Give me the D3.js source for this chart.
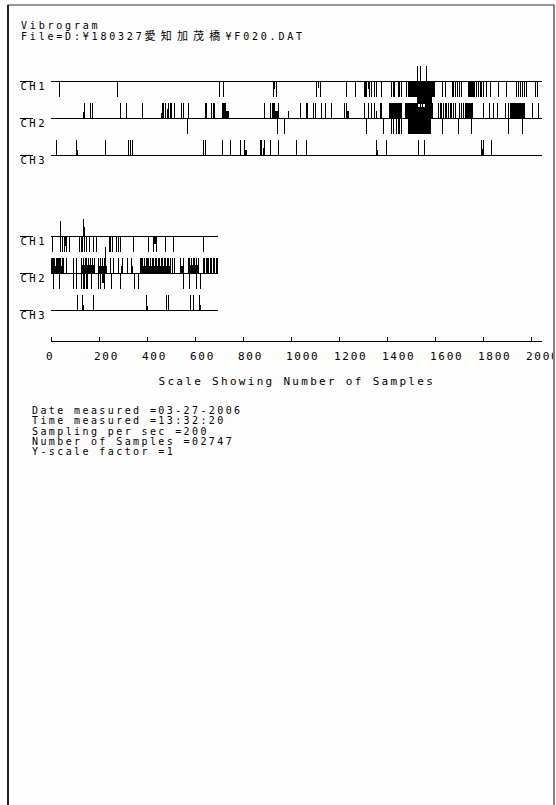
<!doctype html>
<html lang="ja">
<head>
<meta charset="utf-8">
<title>Vibrogram</title>
<script src="https://d3js.org/d3.v7.min.js"></script>
<style>
  body { margin: 0; background: #fff; }
  svg { display: block; }
  text { font-family: "DejaVu Sans Mono", "Noto Sans CJK JP", monospace; fill: #000; }
  .cjk { font-family: "Noto Sans CJK JP", sans-serif; }
  .mark { shape-rendering: crispEdges; }
</style>
</head>
<body>
<svg width="556" height="805"></svg>
<script>
// header / info texts
const titleText = "Vibrogram";
const fileParts = ["File=D:¥180327", "愛知加茂橋", "¥F020.DAT"];
const infoLines = [
  "Date measured =03-27-2006",
  "Time measured =13:32:20",
  "Sampling per sec =200",
  "Number of Samples =02747",
  "Y-scale factor =1"
];
const axisTitle = "Scale Showing Number of Samples";

const channels = ["CH1", "CH2", "CH3"];
const rowStarts = [0, 2048];   // each row shows 2048 samples
const totalSamples = 2747;
const xTicks = [0, 200, 400, 600, 800, 1000, 1200, 1400, 1600, 1800, 2000];

// events: [fromSample, toSample, amplitude]  (amplitude +-1 = full clip, + up, - down)
const ch1Events = [
  [37, 37, -1], [280, 280, -1],
  [706, 706, -1], [720, 720, -1],
  [928, 928, -1], [932, 937, -0.45], [943, 943, -1],
  [1109, 1109, -1], [1114, 1118, -0.4], [1123, 1123, -1],
  [1234, 1234, -1], [1269, 1269, -1],
  [1307, 1307, -1], [1313, 1313, -1], [1318, 1318, -1], [1322, 1327, -0.5], [1331, 1331, -1],
  [1338, 1338, -1], [1348, 1348, -1], [1359, 1359, -1], [1380, 1380, -1],
  [1422, 1422, -1], [1428, 1428, -1], [1435, 1435, -1],
  [1449, 1449, -1], [1456, 1456, -1], [1463, 1463, -1],
  [1484, 1484, -1], [1490, 1525, -1], [1526, 1590, -1.4], [1591, 1596, -1],
  [1530, 1530, 1], [1543, 1543, 1], [1568, 1568, 1],
  [1602, 1602, -1], [1634, 1634, -1], [1644, 1644, -1],
  [1676, 1676, -1], [1680, 1680, -1], [1684, 1690, -1], [1695, 1695, -1], [1703, 1703, -1], [1713, 1713, -1],
  [1741, 1769, -1],
  [1776, 1776, -1], [1783, 1783, -1], [1790, 1790, -1], [1797, 1797, -1],
  [1803, 1803, -1], [1818, 1818, -1], [1834, 1834, -1], [1866, 1866, -1], [1901, 1901, -1],
  [1943, 1943, -1], [1952, 1952, -1], [1958, 1958, -1], [1968, 1968, -1], [1973, 1973, -1], [1984, 1984, -1],
  [2019, 2019, -1], [2030, 2030, -1],
  // second row
  [2056, 2056, -1], [2088, 2088, -1], [2090, 2090, 1],
  [2099, 2099, -1], [2106, 2106, -1], [2108, 2113, -0.6], [2113, 2113, -1],
  [2126, 2126, -1],
  [2168, 2168, -1], [2178, 2178, -1], [2183, 2183, -1], [2186, 2192, -0.6], [2190, 2190, -1],
  [2196, 2196, -1], [2199, 2199, -1], [2185, 2185, 1.1], [2188, 2188, 0.6],
  [2212, 2212, -1], [2226, 2226, -1], [2240, 2240, -1],
  [2293, 2293, -1], [2300, 2300, -1], [2303, 2310, -1], [2322, 2322, -1], [2330, 2330, -1], [2338, 2338, -1],
  [2393, 2393, -1],
  [2456, 2456, -1], [2478, 2478, -1], [2480, 2486, -0.5], [2491, 2491, -1], [2529, 2529, -1], [2560, 2560, -1],
  [2686, 2686, -1]
];

const ch2Events = [
  [137, 137, 0.4], [142, 142, 1], [167, 167, 1], [172, 174, 1],
  [290, 290, 1], [315, 315, 1], [384, 384, 1],
  [462, 462, 0.35], [465, 465, 1], [470, 470, 1], [478, 478, 1], [485, 488, 0.6], [491, 491, 1],
  [498, 498, 1], [505, 505, 1], [518, 518, 1],
  [547, 547, 1], [553, 553, 1], [573, 573, 1],
  [644, 644, 1], [651, 651, 1], [672, 672, 1], [675, 682, 0.6], [678, 678, 1], [685, 685, 1],
  [716, 716, 1], [720, 726, 1], [730, 730, 1], [731, 744, 0.45],
  [891, 891, 1], [918, 918, 1], [921, 930, 1], [934, 934, 1], [937, 947, 0.5], [952, 952, 1], [991, 991, 0.45],
  [1040, 1040, 1], [1065, 1065, 1], [1072, 1072, 1], [1095, 1095, 1], [1106, 1106, 1],
  [1130, 1130, 1], [1147, 1147, 1], [1172, 1172, 1],
  [1227, 1227, 1], [1230, 1236, 1], [1237, 1244, 0.5],
  [1310, 1310, 1], [1325, 1325, 1], [1338, 1338, 1], [1348, 1348, 1], [1356, 1362, 0.5], [1373, 1373, 1], [1380, 1380, 1],
  [1412, 1463, 1],
  [1477, 1530, 1], [1531, 1560, 0.7], [1540, 1540, 1], [1550, 1550, 1], [1561, 1595, 1],
  [1616, 1616, 1], [1623, 1623, 1], [1630, 1630, 1], [1637, 1637, 1], [1644, 1644, 1], [1651, 1651, 1],
  [1658, 1658, 1], [1665, 1665, 1], [1672, 1672, 1], [1680, 1680, 1], [1688, 1688, 1],
  [1703, 1703, 1], [1713, 1713, 1], [1720, 1720, 1],
  [1727, 1762, 1],
  [1803, 1803, 1], [1831, 1831, 1], [1845, 1845, 1], [1862, 1862, 1], [1894, 1894, 1],
  [1908, 1908, 1], [1915, 1975, 1], [2008, 2008, 1], [2035, 2035, 1],
  [569, 569, -1], [946, 946, -1], [976, 976, -1], [1318, 1318, -1], [1387, 1387, -1],
  [1422, 1422, -1], [1430, 1430, -1], [1440, 1440, -1], [1449, 1449, -1], [1456, 1456, -1], [1463, 1463, -1],
  [1490, 1585, -1], [1632, 1632, -1], [1701, 1701, -1], [1755, 1755, -1], [1908, 1908, -1], [1966, 1966, -1],
  // second row
  [2053, 2053, 1], [2058, 2058, 1], [2062, 2062, 1], [2066, 2066, 1], [2071, 2071, 1], [2076, 2076, 1],
  [2081, 2081, 1], [2086, 2086, 1], [2091, 2091, 1], [2096, 2096, 1], [2101, 2101, 1], [2055, 2100, 0.45],
  [2115, 2115, 1], [2143, 2143, 1], [2157, 2157, 1],
  [2180, 2230, 0.55], [2178, 2178, 1], [2185, 2185, 1], [2192, 2192, 1], [2200, 2200, 1],
  [2207, 2207, 1], [2215, 2215, 1], [2222, 2222, 1], [2230, 2230, 1],
  [2247, 2282, 0.5], [2247, 2247, 1], [2255, 2255, 1], [2265, 2265, 1], [2272, 2272, 1], [2279, 2279, 1.7],
  [2296, 2296, 1], [2310, 2310, 1], [2331, 2331, 1], [2340, 2349, 0.5], [2349, 2349, 1], [2368, 2368, 1],
  [2386, 2386, 1], [2387, 2393, 0.5],
  [2421, 2546, 0.5], [2421, 2421, 1], [2427, 2427, 1], [2433, 2433, 1], [2440, 2440, 1], [2446, 2446, 1],
  [2452, 2452, 1], [2458, 2458, 1], [2465, 2465, 1], [2471, 2471, 1], [2477, 2477, 1], [2484, 2484, 1],
  [2490, 2490, 1], [2496, 2496, 1], [2503, 2503, 1], [2509, 2509, 1], [2515, 2515, 1], [2521, 2521, 1],
  [2528, 2528, 1], [2534, 2534, 1], [2540, 2540, 1], [2546, 2546, 1],
  [2557, 2557, 1], [2566, 2566, 1], [2588, 2588, 1], [2590, 2600, 0.5], [2604, 2604, 1],
  [2622, 2664, 0.55], [2622, 2622, 1], [2628, 2628, 1], [2635, 2635, 1], [2642, 2642, 1],
  [2650, 2650, 1], [2657, 2657, 1], [2664, 2664, 1],
  [2685, 2685, 1], [2690, 2690, 1], [2696, 2696, 1], [2702, 2702, 1], [2708, 2708, 1], [2714, 2714, 1],
  [2720, 2720, 1], [2726, 2726, 1], [2732, 2732, 1], [2738, 2738, 1], [2742, 2742, 1],
  [2060, 2060, -1], [2085, 2085, -1], [2143, 2143, -1], [2157, 2157, -1],
  [2178, 2178, -1], [2182, 2186, -1], [2190, 2190, -1], [2194, 2200, -1], [2204, 2204, -1], [2220, 2220, -1],
  [2247, 2247, -1], [2256, 2256, -1], [2262, 2270, -0.6], [2275, 2275, -1], [2303, 2303, -1],
  [2338, 2338, -1], [2400, 2400, -1], [2414, 2414, -1],
  [2601, 2601, -1], [2629, 2629, -1], [2657, 2657, -1], [2671, 2671, -1]
];

const ch3Events = [
  [26, 26, 1], [109, 109, 1], [110, 116, 0.35], [231, 231, 1],
  [326, 326, 1], [334, 334, 1], [339, 343, 0.35], [343, 343, 1],
  [638, 638, 1], [647, 647, 1], [716, 716, 1], [752, 752, 1], [790, 790, 1],
  [808, 808, 1], [809, 818, 0.35],
  [873, 873, 1], [880, 880, 1], [884, 888, 0.5], [891, 891, 1], [918, 918, 1], [952, 952, 1],
  [1026, 1026, 1], [1067, 1067, 1],
  [1359, 1359, 1], [1360, 1366, 0.35], [1401, 1401, 1],
  [1533, 1537, 1], [1558, 1562, 1],
  [1797, 1797, 1], [1798, 1804, 0.4], [1806, 1806, 1], [1838, 1838, 1],
  // second row
  [2160, 2160, 1], [2182, 2182, 1], [2183, 2189, 0.35], [2226, 2226, 1], [2227, 2231, 0.3],
  [2449, 2449, 1], [2450, 2454, 0.3], [2532, 2532, 1], [2539, 2539, 1],
  [2632, 2632, 1], [2643, 2643, 1], [2668, 2668, 1], [2669, 2675, 0.35]
];

const events = { CH1: ch1Events, CH2: ch2Events, CH3: ch3Events };

const width = 556, height = 805;
const svg = d3.select("svg");

const x = d3.scaleLinear().domain([0, 2000]).range([50.5, 530.5]);
const rowY = d3.scaleLinear().domain([0, 1]).range([80.5, 236]);
const chY = d3.scalePoint().domain(channels).range([0, 74]);
const amp = d3.scaleLinear().domain([-1, 1]).range([15.8, -15.8]);

svg.append("rect").attr("width", width).attr("height", height).attr("fill", "#fdfdfd");

// frame
svg.append("path").attr("d", "M8,805V5H554V805").attr("fill", "none").attr("stroke", "#333").attr("stroke-width", 1.2);
svg.append("line").attr("x1", 8).attr("x2", 8).attr("y1", 5).attr("y2", height).attr("stroke", "#222").attr("stroke-width", 2);

// header
svg.append("text").attr("x", 21).attr("y", 28.5).style("font-size", "10px").style("letter-spacing", "2.8px").text(titleText);
const fileLine = svg.append("text").attr("x", 21).attr("y", 39.5).style("font-size", "10px").style("letter-spacing", "2.8px");
fileLine.append("tspan").text(fileParts[0]);
fileLine.append("tspan").attr("class", "cjk").style("font-size", "11px").style("letter-spacing", "5.2px").text(fileParts[1]);
fileLine.append("tspan").text(fileParts[2]);

// vibrogram rows
rowStarts.forEach((start, r) => {
  const end = Math.min(start + 2048, totalSamples) - 1;
  const g = svg.append("g").attr("class", "row");

  channels.forEach(ch => {
    const y0 = Math.round(rowY(r) + chY(ch)) + 0.5;
    const ev = events[ch].filter(d => d[0] >= start && d[0] <= end);

    g.append("line").attr("class", "mark")
      .attr("x1", x(0)).attr("x2", x(end - start))
      .attr("y1", y0).attr("y2", y0)
      .attr("stroke", "#000").attr("stroke-width", 1);

    g.selectAll(null)
      .data(ev.filter(d => d[0] !== d[1]))
      .join("rect").attr("class", "mark")
      .attr("x", d => x(d[0] - start))
      .attr("width", d => Math.max(1, x(d[1] - start) - x(d[0] - start)))
      .attr("y", d => Math.min(y0, y0 + amp(d[2])))
      .attr("height", d => Math.abs(amp(d[2])))
      .attr("fill", "#000");

    g.selectAll(null)
      .data(ev.filter(d => d[0] === d[1]))
      .join("line").attr("class", "mark")
      .attr("x1", d => x(d[0] - start)).attr("x2", d => x(d[0] - start))
      .attr("y1", y0).attr("y2", d => y0 + amp(d[2]))
      .attr("stroke", "#000").attr("stroke-width", 1);

    // channel label with overline
    g.append("line").attr("class", "mark")
      .attr("x1", 19.5).attr("x2", 33).attr("y1", y0).attr("y2", y0)
      .attr("stroke", "#000");
    g.append("text").attr("x", 20.5).attr("y", y0 + 8.5)
      .style("font-size", "10.5px").style("letter-spacing", "2.5px").text(ch);
  });
});

// sample axis (the last label is cut by the frame like the original)
svg.append("clipPath").attr("id", "frameClip")
  .append("rect").attr("x", 0).attr("y", 0).attr("width", 553).attr("height", height);

const axisY = 341.5;
const axis = svg.append("g").attr("clip-path", "url(#frameClip)")
  .append("g")
  .attr("transform", `translate(0,${axisY})`)
  .call(d3.axisBottom(x).tickValues(xTicks).tickSizeInner(-5).tickSizeOuter(0).tickFormat(d3.format("d")));
axis.select(".domain").remove();
axis.selectAll(".tick line").attr("class", "mark").attr("stroke", "#000").attr("stroke-width", 1);
axis.selectAll(".tick text")
  .attr("text-anchor", "start").attr("x", -5).attr("y", 18).attr("dy", null)
  .style("font-size", "11px").style("letter-spacing", "1.7px");
axis.append("line").attr("class", "mark")
  .attr("x1", x(0)).attr("x2", x(2047)).attr("y1", 0).attr("y2", 0)
  .attr("stroke", "#000").attr("stroke-width", 1);

svg.append("text").attr("x", 158.5).attr("y", 385)
  .style("font-size", "11px").style("letter-spacing", "2.3px").text(axisTitle);

// measurement info
svg.append("g").selectAll("text")
  .data(infoLines)
  .join("text")
  .attr("x", 32).attr("y", (d, i) => 414 + i * 10.3)
  .style("font-size", "10px").style("letter-spacing", "2.4px")
  .text(d => d);
</script>
</body>
</html>
